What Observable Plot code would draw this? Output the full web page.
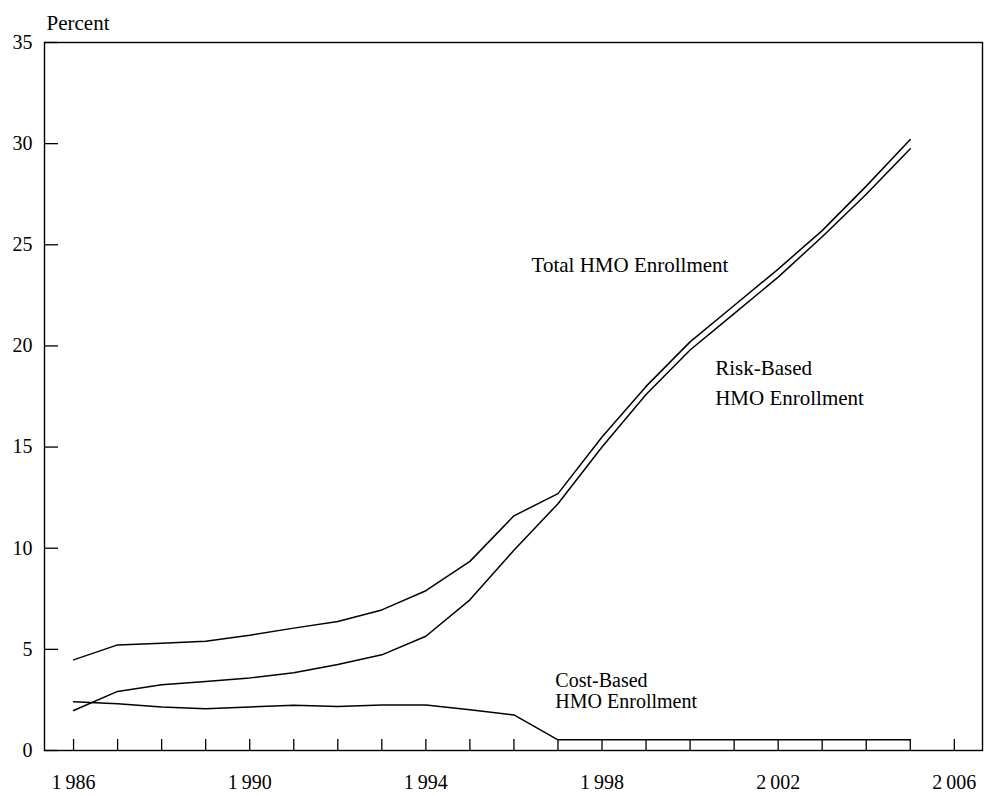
<!DOCTYPE html>
<html>
<head>
<meta charset="utf-8">
<script src="https://cdn.jsdelivr.net/npm/d3@7"></script>
<script src="https://cdn.jsdelivr.net/npm/@observablehq/plot@0.6"></script>
<style>
  html, body { margin: 0; padding: 0; background: #fff; }
</style>
</head>
<body>
<div id="chart"></div>
<script>
const years = [1986,1987,1988,1989,1990,1991,1992,1993,1994,1995,1996,1997,1998,1999,2000,2001,2002,2003,2004,2005];
const totalHMO = [4.48,5.22,5.3,5.4,5.7,6.05,6.38,6.95,7.9,9.35,11.6,12.7,15.5,18.0,20.2,22.0,23.8,25.7,27.9,30.2];
const riskHMO  = [1.98,2.92,3.25,3.41,3.59,3.84,4.25,4.73,5.65,7.45,9.9,12.2,15.0,17.6,19.8,21.6,23.4,25.4,27.5,29.75];
const costHMO  = [2.41,2.31,2.15,2.06,2.15,2.24,2.17,2.25,2.25,2.01,1.76,0.53,0.53,0.53,0.53,0.53,0.53,0.53,0.53,0.53];
const yTicks = [0,5,10,15,20,25,30,35];
const xTickYears = d3.range(1986, 2007);
const xLabelYears = [1986,1990,1994,1998,2002,2006];
const seriesLabels = [
  {text: "Total HMO Enrollment", year: 1996.4, value: 23.97},
];
const riskLabel = [{text: "Risk-Based\nHMO Enrollment", year: 2000.57, value: 18.3}];
const costLabel = [{text: "Cost-Based\nHMO Enrollment", year: 1996.94, value: 2.97}];

const series = [
  {name: "Total", values: totalHMO},
  {name: "Risk", values: riskHMO},
  {name: "Cost", values: costHMO}
];
const rows = series.flatMap(s => years.map((yr, i) => ({series: s.name, year: yr, value: s.values[i]})));

const W = 984, H = 796, mL = 44, mR = 2, mT = 42, mB = 46;
const plotW = W - mL - mR, plotH = H - mT - mB;
const font = "'Liberation Serif', 'Times New Roman', serif";

const chart = Plot.plot({
  width: W,
  height: H,
  marginLeft: mL,
  marginRight: mR,
  marginTop: mT,
  marginBottom: mB,
  style: {fontFamily: font, fontSize: "20px", color: "#000", background: "#fff"},
  x: {domain: [1985.34, 2006.64]},
  y: {domain: [0, 35]},
  marks: [
    Plot.frame({stroke: "#000", strokeWidth: 1.4}),
    Plot.tickX(xTickYears, {x: d => d, stroke: "#000", strokeWidth: 1.3, insetTop: plotH - 11}),
    Plot.tickY(yTicks, {y: d => d, stroke: "#000", strokeWidth: 1.3, insetRight: plotW - 14}),
    Plot.axisX(xLabelYears, {tickSize: 0, tickPadding: 24, fontSize: 20, fontFamily: font, fill: "#000",
      tickFormat: d => String(d).replace(/^(\d)/, "$1\u2009"), label: null}),
    Plot.axisY(yTicks, {tickSize: 0, tickPadding: 12, fontSize: 20, fontFamily: font, fill: "#000", label: null}),
    Plot.line(rows, {x: "year", y: "value", z: "series", stroke: "#000", strokeWidth: 1.5}),
    Plot.text(seriesLabels, {x: "year", y: "value", text: "text", textAnchor: "start", fontSize: 21, fontFamily: font, fill: "#000"}),
    Plot.text(riskLabel, {x: "year", y: "value", text: "text", textAnchor: "start", lineHeight: 1.45, fontSize: 21, fontFamily: font, fill: "#000"}),
    Plot.text(costLabel, {x: "year", y: "value", text: "text", textAnchor: "start", lineHeight: 1.08, fontSize: 20, fontFamily: font, fill: "#000"}),
    Plot.text(["Percent"], {frameAnchor: "top-left", text: d => d, dx: 2, dy: -27, textAnchor: "start", fontSize: 21, fontFamily: font, fill: "#000"})
  ]
});
document.getElementById("chart").appendChild(chart);
</script>
</body>
</html>
